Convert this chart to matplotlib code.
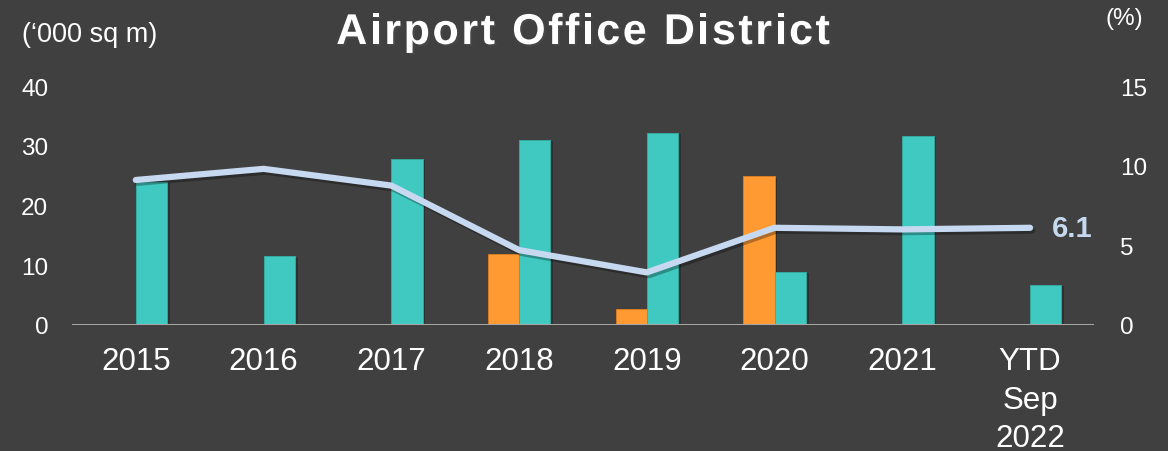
import matplotlib.pyplot as plt
import matplotlib.patheffects as pe
import numpy as np

plt.rcParams['font.family'] = ['Liberation Sans', 'DejaVu Sans']

# Airport Office District: floor space (bars, '000 sq m) and vacancy rate (line, %)
years = ["2015", "2016", "2017", "2018", "2019", "2020", "2021", "YTD\nSep\n2022"]
new_supply = [0, 0, 0, 11.9, 2.7, 24.9, 0, 0]
net_absorption = [24.0, 11.5, 27.8, 31.0, 32.2, 8.9, 31.7, 6.7]
vacancy = [9.1, 9.8, 8.75, 4.7, 3.3, 6.1, 6.0, 6.1]
title = "Airport Office District"

bg = "#404040"
orange = "#FF9A33"
teal = "#40C9C1"
line_col = "#C6D9F1"

W, H = 1168, 452
fig = plt.figure(figsize=(W / 100, H / 100), dpi=100, facecolor=bg)
ax = fig.add_axes([0.0616, 0.2788, 0.875, 0.5287])
ax.set_facecolor(bg)

x = np.arange(len(years))
w = 0.245
shadow = [pe.SimplePatchShadow(offset=(2, -1), alpha=0.25, shadow_rgbFace="black"), pe.Normal()]
ax.bar(x - w / 2, new_supply, w, color=orange, edgecolor="#E08020", linewidth=0.6,
       path_effects=shadow, zorder=3)
ax.bar(x + w / 2, net_absorption, w, color=teal, edgecolor="#36ADA6", linewidth=0.6,
       path_effects=shadow, zorder=3)
ax.axhline(0, color="#A6A6A6", linewidth=2.2, zorder=4)

ax.set_xlim(-0.5, len(years) - 0.5)
ax.set_ylim(0, 40)
ax.set_yticks([0, 10, 20, 30, 40])
ax.set_xticks(x)
ax.set_xticklabels(years, fontsize=22.5, color="white", linespacing=1.38)
ax.tick_params(axis="x", length=0, pad=15)
ax.tick_params(axis="y", length=0, pad=17, labelsize=17.5, labelcolor="white")
for s in ax.spines.values():
    s.set_visible(False)

ax2 = ax.twinx()
ax2.set_ylim(0, 15)
ax2.set_yticks([0, 5, 10, 15])
ax2.tick_params(axis="y", length=0, pad=19, labelsize=17.5, labelcolor="white")
for s in ax2.spines.values():
    s.set_visible(False)
ax2.plot(x, vacancy, color=line_col, linewidth=4.5, solid_capstyle="round",
         solid_joinstyle="round", zorder=5,
         path_effects=[pe.SimpleLineShadow(offset=(1.5, -2), alpha=0.3, shadow_color="black"),
                       pe.Normal()])
ax2.annotate(f"{vacancy[-1]:.1f}", (x[-1], vacancy[-1]), xytext=(16, 0),
             textcoords="offset points", ha="left", va="center",
             fontsize=21, fontweight="bold", color=line_col)

# title with extra letter spacing, placed one character at a time
renderer = fig.canvas.get_renderer()
title_kw = dict(fontsize=31, fontweight="bold", color="white")


def text_width(s):
    t = fig.text(0, 0, s, **title_kw)
    wpx = t.get_window_extent(renderer).width
    t.remove()
    return wpx


advances = [text_width(title[:i + 1] + "X") - text_width(title[:i] + "X")
            for i in range(len(title))]
spacing = 2.6
total = sum(advances) + spacing * (len(title) - 1)
xpos = 583 - total / 2
for ch, adv in zip(title, advances):
    if ch != " ":
        fig.text(xpos / W, 1 - 45 / H, ch, ha="left", va="baseline", **title_kw,
                 path_effects=[pe.withSimplePatchShadow(offset=(1.5, -1.5), alpha=0.5)])
    xpos += adv + spacing

fig.text(0.019, 1 - 35 / H, "(\u2018000 sq m)", ha="left", va="center", fontsize=19.5, color="white")
fig.text(0.979, 1 - 19 / H, "(%)", ha="right", va="center", fontsize=17.5, color="white")

fig.savefig("out.png", dpi=100, facecolor=bg)
